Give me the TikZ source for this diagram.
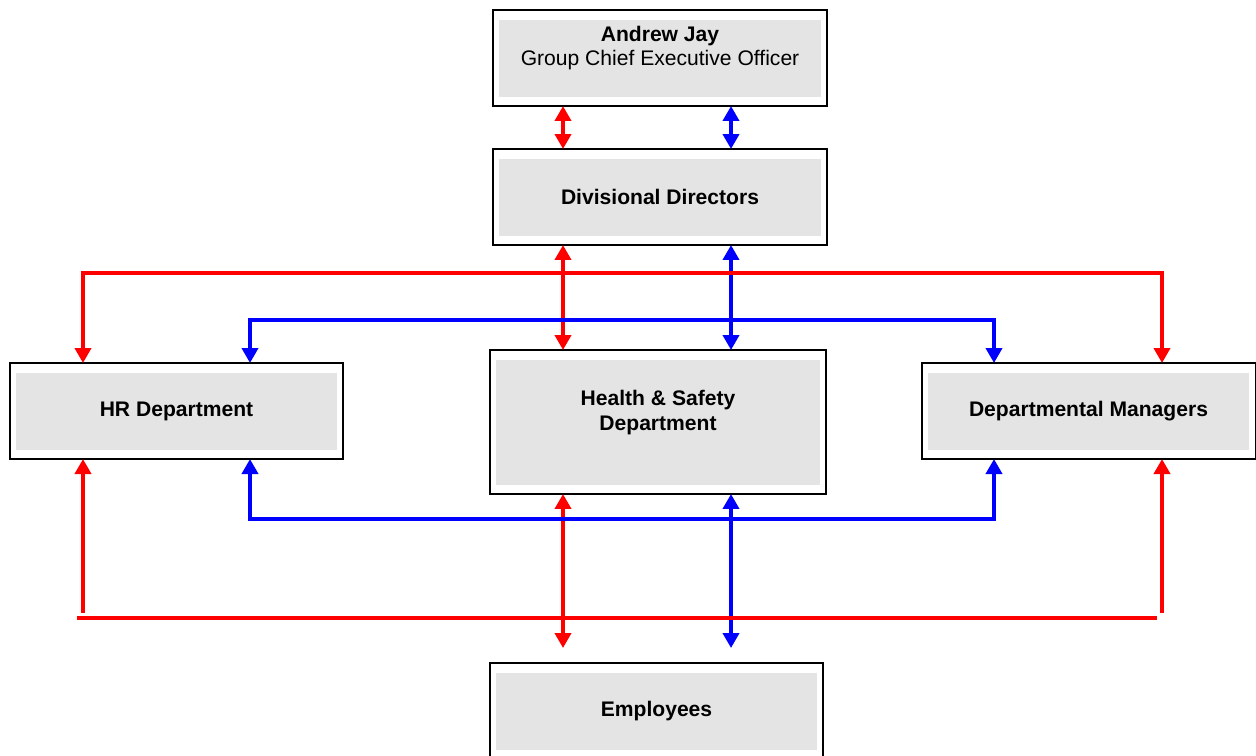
\documentclass[tikz,border=0pt]{standalone}
\usepackage{fontspec}
\setmainfont{Liberation Sans}
\usetikzlibrary{arrows.meta,calc}
\definecolor{boxgray}{RGB}{228,228,228}
\definecolor{lred}{RGB}{255,0,0}
\definecolor{lblue}{RGB}{0,0,255}
\begin{document}
\begin{tikzpicture}[x=0.02cm,y=-0.02cm,
  >={Triangle[length=0.3cm,width=0.32cm]},
  box/.style={draw=black, line width=1.1pt, inner sep=0pt, outer sep=0pt, fill=white,
    font=\fontsize{12}{13.7}\selectfont\bfseries, align=center,
    path picture={\fill[boxgray] ($(path picture bounding box.north west)+(6,10)$) rectangle ($(path picture bounding box.south east)+(-6,-9)$);}},
  boxtext/.style={font=\fontsize{12}{13.7}\selectfont, align=center, inner sep=0pt},
  rl/.style={draw=lred, line width=2.3pt, line join=miter},
  bl/.style={draw=lblue, line width=2.3pt, line join=miter}]
\useasboundingbox (0,0) rectangle (1256,755);
\clip (0,0) rectangle (1256,755);
\fill[white] (0,0) rectangle (1256,755);

% boxes
\node[box, minimum width=6.68cm, minimum height=1.92cm] (ceo) at (660,58) {};
\node[boxtext] (ceotext) at (660,48) {\textbf{Andrew Jay}\\Group Chief Executive Officer};
\node[box, minimum width=6.68cm, minimum height=1.92cm] (dd) at (660,197) {Divisional Directors};
\node[box, minimum width=6.66cm, minimum height=1.92cm] (hr) at (176.5,411) {HR Department};
\node[box, minimum width=6.72cm, minimum height=2.88cm] (hs) at (658,422) {};
\node[boxtext, font=\fontsize{12}{14.2}\selectfont\bfseries] (hstext) at (658,412.5) {Health \& Safety\\Department};
\node[box, minimum width=6.68cm, minimum height=1.92cm] (dm) at (1088.5,411) {Departmental Managers};
\node[box, minimum width=6.66cm, minimum height=1.92cm] (emp) at (656.5,711) {Employees};

\coordinate (rx) at (563,0);
\coordinate (bx) at (731,0);

% vertical central connectors
\draw[rl,<->] (ceo.south -| rx) -- (dd.north -| rx);
\draw[bl,<->] (ceo.south -| bx) -- (dd.north -| bx);
\draw[rl,<->] (dd.south -| rx) -- (hs.north -| rx);
\draw[bl,<->] (dd.south -| bx) -- (hs.north -| bx);
\draw[rl,<->] (hs.south -| rx) -- ($(emp.north -| rx)+(0,-15)$);
\draw[bl,<->] (hs.south -| bx) -- ($(emp.north -| bx)+(0,-15)$);

% top distribution lines
\draw[rl,<->] ($(hr.north)+(-93.5,0)$) -- ++(0,-90) -| ($(dm.north)+(73.5,0)$);
\draw[bl,<->] ($(hr.north)+(73.5,0)$) -- ++(0,-43) -| ($(dm.north)+(-94.5,0)$);

% bottom lines
\draw[bl,<->] ($(hr.south)+(73.5,0)$) -- ++(0,60) -| ($(dm.south)+(-94.5,0)$);
\coordinate (rbl) at ($(hr.south)+(-93.5,154)$);
\coordinate (rbr) at ($(dm.south)+(73.5,154)$);
\draw[rl,->] (rbl) -- ($(hr.south)+(-93.5,0)$);
\draw[rl,->] (rbr) -- ($(dm.south)+(73.5,0)$);
\draw[rl] ($(hr.south)+(-99.5,159)$) -- ($(dm.south)+(68.5,159)$);
\end{tikzpicture}
\end{document}
